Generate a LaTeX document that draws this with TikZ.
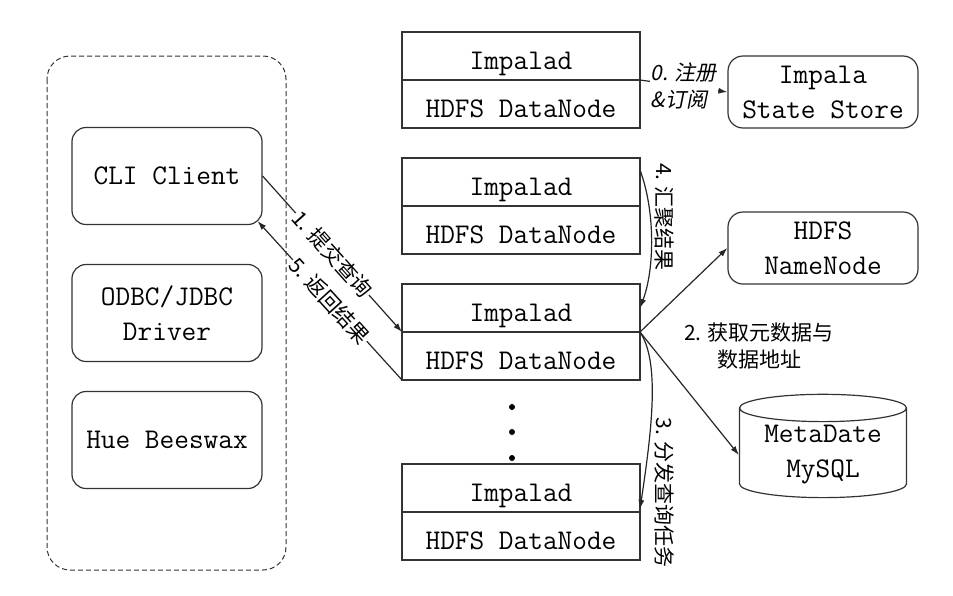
\documentclass[tikz,border=0pt]{standalone}
\usepackage{fontspec}
\newfontfamily\cjk{Noto Sans CJK SC}
\newfontfamily\cjkslant[FakeSlant=0.2]{Noto Sans CJK SC}
\usetikzlibrary{positioning,shapes.geometric,arrows.meta}

\tikzset{
  boxfont/.style={font=\ttfamily\fontsize{28.5}{35}\selectfont},
  cell/.style={draw=black!80, line width=1.2pt, boxfont, minimum width=238pt,
    minimum height=48pt, inner sep=0pt, outer sep=0pt,
    text height=27pt, text depth=0pt},
  client/.style={draw=black!80, line width=1.2pt, boxfont, rounded corners=14pt,
    minimum width=190pt, minimum height=97pt, align=center},
  service/.style={client, minimum height=72pt, rounded corners=15pt},
  lab/.style={font=\cjk\fontsize{21}{27}\selectfont, inner sep=1pt},
  conn/.style={->, draw=black!85, line width=1.2pt},
  frame/.style={draw=black!80, line width=1pt, dash pattern=on 5pt off 3pt,
    rounded corners=23pt}
}

\begin{document}
\begin{tikzpicture}[x=1pt,y=-1pt,>={Latex[length=9pt,width=6pt]}]
\useasboundingbox (0,0) rectangle (953,595);

  %% clients
  \node[client] (cli)  at (167,176) {CLI Client};
  \node[client] (odbc) at (167,313) {ODBC/JDBC\\Driver};
  \node[client] (hue)  at (167,440) {Hue Beeswax};

  %% impalad over datanode
  \foreach \n/\y in {1/56,2/182,3/308,4/488}{
    \node[cell] (i\n) at (521,\y) {Impalad};
    \node[cell,below=0pt of i\n] (d\n) {HDFS DataNode};
  }
  \foreach \y in {407,432,458} \fill (512,\y) circle (3pt); %% more nodes

  %% services
  \node[service] (ss) at (823,92) {Impala\\State Store};
  \node[service] (nn) at (823,248) {HDFS\\NameNode};
  \node[draw=black!80, line width=1.2pt, boxfont, cylinder, shape border rotate=90,
    aspect=0.22, minimum width=167pt, minimum height=95pt, align=center]
    (db) at (823,455) {MetaDate\\MySQL};

  %% register
  \draw[conn] (i1.south east) -- node[lab,fill=white,align=left,
    font=\cjkslant\fontsize{21}{27}\selectfont] {0. 注册\\\&订阅} (ss.west);

  %% query in / result out
  \draw[conn] (cli.east) -- node[lab,fill=white,sloped] {1. 提交查询} (i3.south west);
  \draw[conn] (d3.south west) -- node[lab,fill=white,sloped] {5. 返回结果}
    ([xshift=-5pt,yshift=4pt]cli.south east);

  %% metadata
  \draw[conn] (i3.south east) -- (nn.west);
  \draw[conn] (i3.south east) -- (db.west);
  \node[lab,align=center] (meta) at (759,346) {2. 获取元数据与\\数据地址};

  %% dispatch / gather
  \draw[conn] (i3.south east) .. controls +(20,30) and +(12,-80) ..
    node[lab,pos=0.93,anchor=south,rotate=-90,inner sep=12pt] {3. 分发查询任务}
    ([yshift=3pt]i4.south east);
  \draw[conn] ([yshift=-12pt]i2.north east) .. controls +(15,40) and +(15,-40) ..
    node[lab,pos=0.35,anchor=south,rotate=-90,inner sep=4pt] {4. 汇聚结果}
    (i3.east);

  %% client group
  \draw[frame] (47,56) rectangle (286,570);

\end{tikzpicture}
\end{document}
